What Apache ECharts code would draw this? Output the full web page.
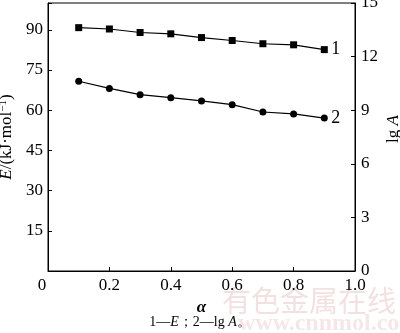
<!DOCTYPE html>
<html>
<head>
<meta charset="utf-8">
<script src="https://cdn.jsdelivr.net/npm/echarts@6/dist/echarts.min.js"></script>
<style>
  html, body { margin: 0; padding: 0; background: #fff; }
  #chart { width: 400px; height: 333px; }
</style>
</head>
<body>
<div id="chart"></div>
<script>
// conversion fraction
var alpha = [0.1, 0.2, 0.3, 0.4, 0.5, 0.6, 0.7, 0.8, 0.9];
// curve 1: activation energy E, kJ/mol (left axis)
var energy = [90.8, 90.3, 89.0, 88.5, 87.1, 86.0, 84.8, 84.4, 82.6];
// curve 2: lg A (right axis)
var lgA = [10.62, 10.22, 9.87, 9.70, 9.52, 9.31, 8.90, 8.79, 8.56];

var serif = 'Liberation Serif';

var myChart = echarts.init(document.getElementById('chart'));

function pairs(xs, ys) {
  return xs.map(function (x, i) { return [x, ys[i]]; });
}

var option = {
  animation: false,
  textStyle: { fontFamily: serif, color: '#000' },
  grid: {
    left: 48, right: 45, top: 3, bottom: 62,
    containLabel: false,
    outerBoundsMode: 'none',
    show: true, borderColor: '#000', borderWidth: 1
  },
  xAxis: {
    type: 'value',
    min: 0, max: 1, interval: 0.2,
    name: 'α',
    nameLocation: 'middle',
    nameGap: 28,
    nameTextStyle: { fontFamily: serif, fontSize: 17, fontStyle: 'italic', fontWeight: 'bold', color: '#000' },
    axisLine: { lineStyle: { color: '#000', width: 1 } },
    axisTick: { inside: true, length: 4, lineStyle: { color: '#000' } },
    splitLine: { show: false },
    axisLabel: {
      fontFamily: serif, fontSize: 17, color: '#000', margin: 6,
      formatter: function (v) { return v === 0 ? '{z|0}' : v.toFixed(1); },
      rich: { z: { fontFamily: serif, fontSize: 17, color: '#000', padding: [0, 12, 4, 0] } }
    }
  },
  yAxis: [
    {
      type: 'value',
      min: 0, max: 100, interval: 15,
      name: '{i|E}/(kJ·mol{s|−1})',
      nameLocation: 'middle',
      nameRotate: 90,
      nameGap: 26,
      nameTextStyle: {
        fontFamily: serif, fontSize: 17, color: '#000',
        rich: {
          i: { fontFamily: serif, fontSize: 17, fontStyle: 'italic', color: '#000' },
          s: { fontFamily: serif, fontSize: 11, color: '#000', padding: [0, 0, 7, 0] }
        }
      },
      axisLine: { show: true, lineStyle: { color: '#000', width: 1 } },
      axisTick: { show: true, inside: true, length: 4, lineStyle: { color: '#000' } },
      splitLine: { show: false },
      axisLabel: {
        fontFamily: serif, fontSize: 17, color: '#000', margin: 5,
        formatter: function (v) { return (v === 0 || v === 100) ? '' : v; }
      }
    },
    {
      type: 'value',
      position: 'right',
      min: 0, max: 15, interval: 3,
      axisLine: { show: true, lineStyle: { color: '#000', width: 1 } },
      axisTick: { show: true, inside: true, length: 4, lineStyle: { color: '#000' } },
      splitLine: { show: false },
      axisLabel: { fontFamily: serif, fontSize: 17, color: '#000', margin: 6 }
    }
  ],
  series: [
    {
      name: 'E',
      type: 'line',
      yAxisIndex: 0,
      data: pairs(alpha, energy),
      symbol: 'rect',
      symbolSize: 7,
      showAllSymbol: true,
      itemStyle: { color: '#000' },
      lineStyle: { color: '#000', width: 1.2 },
      endLabel: { show: true, formatter: '1', fontFamily: serif, fontSize: 18, color: '#000', distance: 7 }
    },
    {
      name: 'lgA',
      type: 'line',
      yAxisIndex: 1,
      data: pairs(alpha, lgA),
      symbol: 'circle',
      symbolSize: 7,
      showAllSymbol: true,
      itemStyle: { color: '#000' },
      lineStyle: { color: '#000', width: 1.2 },
      endLabel: { show: true, formatter: '2', fontFamily: serif, fontSize: 18, color: '#000', distance: 7 }
    }
  ],
  graphic: [
    {
      // right axis title
      type: 'text', x: 394, y: 129, rotation: Math.PI / 2, z: 10,
      style: {
        text: 'lg {i|A}', align: 'center', verticalAlign: 'middle',
        font: '17px Liberation Serif', fill: '#000',
        rich: { i: { font: 'italic 17px Liberation Serif', fill: '#000' } }
      }
    },
    {
      type: 'text', left: 'center', top: 315, z: 10,
      style: {
        text: '1—{i|E}；2—lg {i|A}。',
        font: '14px Liberation Serif', fill: '#000',
        rich: { i: { font: 'italic 14px Liberation Serif', fill: '#000' } }
      }
    },
    {
      type: 'text', left: 222, top: 286, z: -1, silent: true,
      style: { text: '有色金属在线', font: '29px Noto Sans CJK SC', fill: 'rgba(200,120,120,0.22)' }
    },
    {
      type: 'text', left: 238, top: 312, z: -1, silent: true,
      style: { text: 'www.cnnmol.com', font: 'bold 24px Liberation Serif', fill: 'rgba(200,120,120,0.18)' }
    }
  ]
};

myChart.setOption(option);
</script>
</body>
</html>
